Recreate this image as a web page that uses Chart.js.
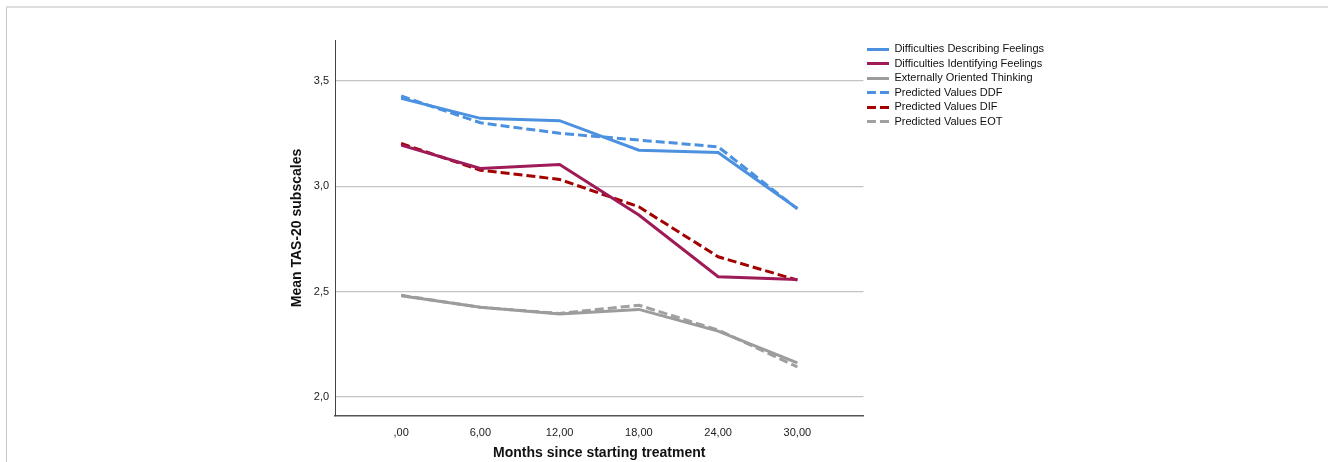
<!DOCTYPE html>
<html>
<head>
<meta charset="utf-8">
<script src="https://cdn.jsdelivr.net/npm/chart.js@4/dist/chart.umd.min.js"></script>
<style>
  html, body { margin: 0; padding: 0; background: #fff; }
  #frame {
    position: absolute; left: 6px; top: 6px; width: 1330px; height: 470px;
    border-top: 2px solid #dedede; border-left: 1px solid #c8c8c8;
  }
  #wrap { position: absolute; left: 0; top: 0; width: 1328px; height: 462px; }
</style>
</head>
<body>
<div id="frame"></div>
<div id="wrap"><canvas id="tasChart"></canvas></div>
<script>
// months since starting treatment
const months = [0, 6, 12, 18, 24, 30];

// observed means
const ddf = [3.418, 3.323, 3.312, 3.172, 3.161, 2.895];
const dif = [3.196, 3.085, 3.104, 2.864, 2.571, 2.558];
const eot = [2.481, 2.426, 2.394, 2.416, 2.313, 2.162];

// predicted values
const ddfPred = [3.429, 3.302, 3.252, 3.220, 3.188, 2.893];
const difPred = [3.204, 3.077, 3.033, 2.903, 2.666, 2.555];
const eotPred = [2.483, 2.426, 2.397, 2.436, 2.318, 2.143];

const yTicks = [2.0, 2.5, 3.0, 3.5];
const xTicks = [0, 6, 12, 18, 24, 30];

function pts(vals) {
    return months.map((m, i) => ({ x: m, y: vals[i] }));
}

// small line picture used as the legend swatch (keeps the dash visible)
function swatch(color, dash) {
    const c = document.createElement("canvas");
    c.width = 22;
    c.height = 3;
    const ctx = c.getContext("2d");
    ctx.strokeStyle = color;
    ctx.lineWidth = 3;
    ctx.setLineDash(dash);
    ctx.beginPath();
    ctx.moveTo(0, 1.5);
    ctx.lineTo(22, 1.5);
    ctx.stroke();
    return c;
}

function series(label, vals, color, dashed) {
    const dash = dashed ? [9, 4] : [];
    return {
        label: label,
        data: pts(vals),
        borderColor: color,
        backgroundColor: color,
        borderWidth: 3,
        borderDash: dash,
        pointRadius: 0,
        pointStyle: swatch(color, dash),
        tension: 0,
        fill: false
    };
}

const FONT = "'Liberation Sans', Arial, sans-serif";

new Chart(document.getElementById("tasChart"), {
    type: "line",
    data: {
        datasets: [
            series("Difficulties Describing Feelings", ddf, "#4c91e0", false),
            series("Difficulties Identifying Feelings", dif, "#9e1b57", false),
            series("Externally Oriented Thinking", eot, "#9c9c9c", false),
            series("Predicted Values DDF", ddfPred, "#4c91e0", true),
            series("Predicted Values DIF", difPred, "#a30000", true),
            series("Predicted Values EOT", eotPred, "#a0a0a0", true)
        ]
    },
    options: {
        responsive: true,
        maintainAspectRatio: false,
        animation: false,
        layout: { padding: { left: 285, right: 274, top: 40, bottom: 0 } },
        plugins: {
            tooltip: { enabled: false },
            legend: {
                position: "right",
                align: "start",
                labels: {
                    usePointStyle: true,
                    pointStyleWidth: 22,
                    padding: 3.5,
                    color: "#111",
                    font: { family: FONT, size: 11 }
                }
            }
        },
        scales: {
            x: {
                type: "linear",
                min: -5,
                max: 35,
                afterBuildTicks: (scale) => { scale.ticks = xTicks.map(v => ({ value: v })); },
                afterFit: (scale) => { scale.height = 46; },
                grid: { display: false, drawTicks: false },
                border: { display: true, color: "#555", width: 1.5 },
                ticks: {
                    padding: 10,
                    maxRotation: 0,
                    minRotation: 0,
                    color: "#222",
                    font: { family: FONT, size: 11 },
                    callback: (v) => v === 0 ? ",00" : v.toFixed(2).replace(".", ",")
                },
                title: {
                    display: true,
                    text: "Months since starting treatment",
                    color: "#111",
                    font: { family: FONT, size: 14, weight: "bold" },
                    padding: { top: 6, bottom: 0 }
                }
            },
            y: {
                min: 1.91,
                max: 3.695,
                afterBuildTicks: (scale) => { scale.ticks = yTicks.map(v => ({ value: v })); },
                grid: { color: "#c4c4c4", lineWidth: 1.2, drawTicks: false },
                border: { display: true, color: "#444", width: 1 },
                ticks: {
                    padding: 6,
                    color: "#222",
                    font: { family: FONT, size: 11 },
                    callback: (v) => v.toFixed(1).replace(".", ",")
                },
                title: {
                    display: true,
                    text: "Mean TAS-20 subscales",
                    color: "#111",
                    font: { family: FONT, size: 14, weight: "bold" },
                    padding: { top: 4, bottom: 2 }
                }
            }
        }
    }
});
</script>
</body>
</html>
